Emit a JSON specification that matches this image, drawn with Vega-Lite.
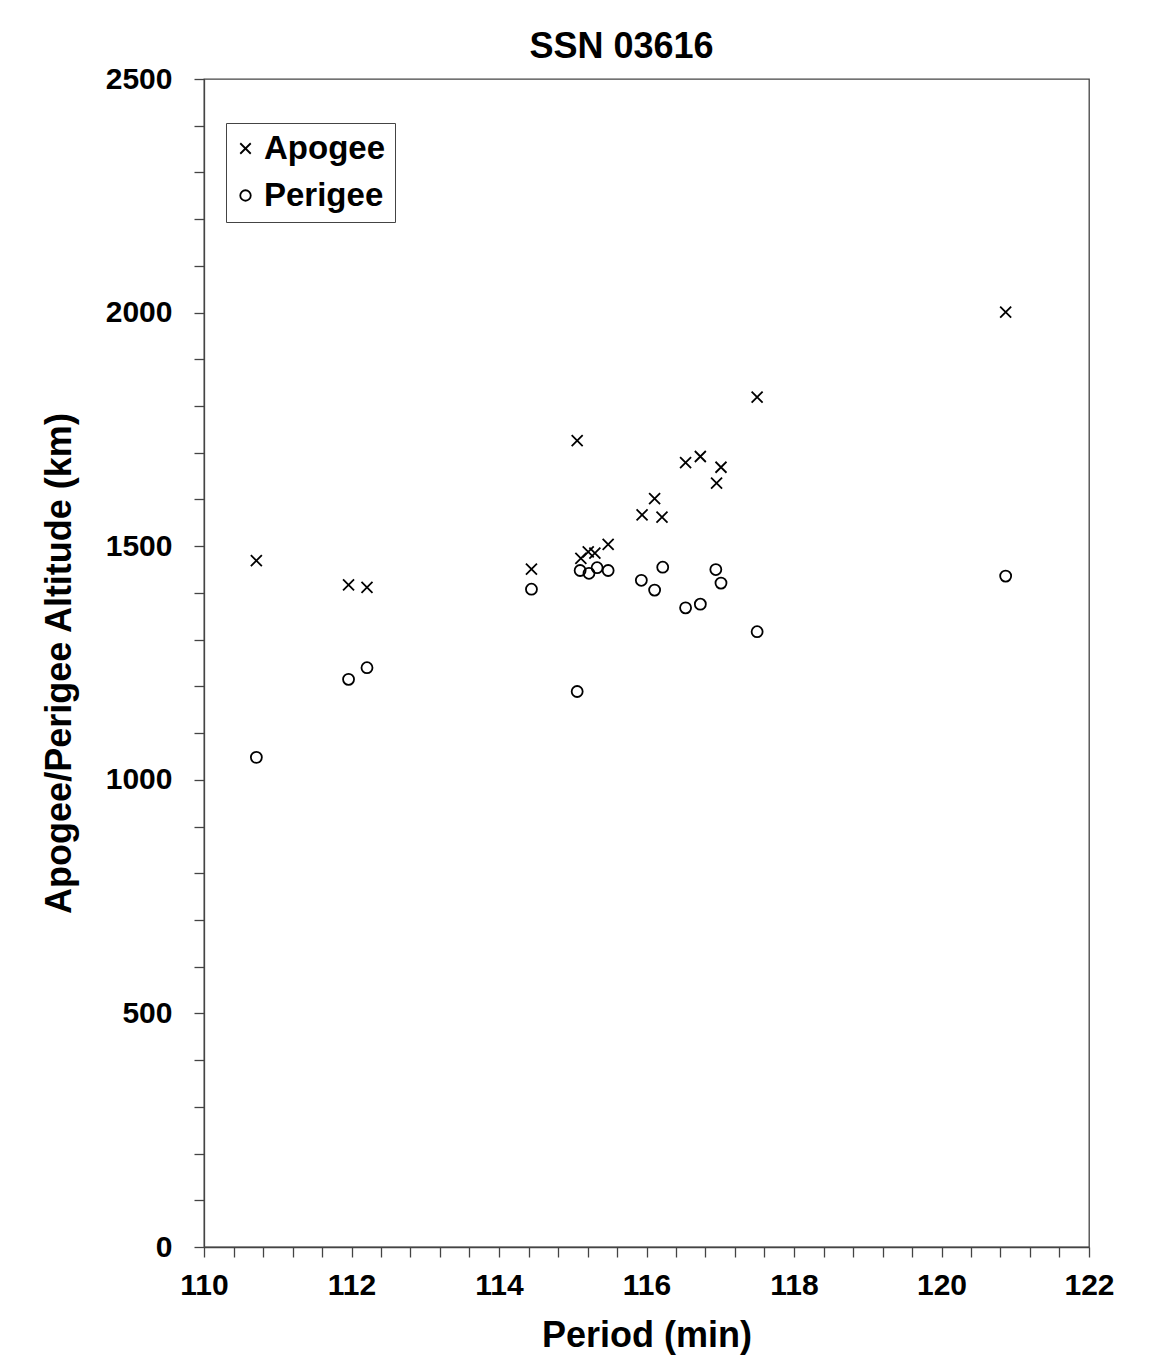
{
  "$schema": "https://vega.github.io/schema/vega-lite/v6.json",
  "width": 885,
  "height": 1168,
  "autosize": {"type": "none"},
  "padding": {"left": 204, "top": 79, "right": 67, "bottom": 125},
  "background": "white",
  "config": {
    "font": "Liberation Sans",
    "view": {"stroke": "#444", "strokeWidth": 1.3}
  },
  "title": {
    "text": "SSN 03616",
    "fontSize": 36,
    "fontWeight": "bold",
    "font": "Liberation Sans",
    "color": "black",
    "anchor": "middle",
    "frame": "group",
    "dx": -25,
    "baseline": "alphabetic",
    "offset": -30
  },
  "data": {
    "values": [
      {"period": 110.71, "altitude": 1469, "type": "Apogee"},
      {"period": 111.96, "altitude": 1417, "type": "Apogee"},
      {"period": 112.21, "altitude": 1412, "type": "Apogee"},
      {"period": 114.44, "altitude": 1451, "type": "Apogee"},
      {"period": 115.06, "altitude": 1726, "type": "Apogee"},
      {"period": 115.11, "altitude": 1474, "type": "Apogee"},
      {"period": 115.21, "altitude": 1488, "type": "Apogee"},
      {"period": 115.30, "altitude": 1485, "type": "Apogee"},
      {"period": 115.48, "altitude": 1504, "type": "Apogee"},
      {"period": 115.94, "altitude": 1567, "type": "Apogee"},
      {"period": 116.11, "altitude": 1602, "type": "Apogee"},
      {"period": 116.21, "altitude": 1562, "type": "Apogee"},
      {"period": 116.53, "altitude": 1679, "type": "Apogee"},
      {"period": 116.73, "altitude": 1692, "type": "Apogee"},
      {"period": 116.95, "altitude": 1635, "type": "Apogee"},
      {"period": 117.01, "altitude": 1669, "type": "Apogee"},
      {"period": 117.50, "altitude": 1819, "type": "Apogee"},
      {"period": 120.87, "altitude": 2001, "type": "Apogee"},
      {"period": 110.71, "altitude": 1048, "type": "Perigee"},
      {"period": 111.96, "altitude": 1215, "type": "Perigee"},
      {"period": 112.21, "altitude": 1240, "type": "Perigee"},
      {"period": 114.44, "altitude": 1408, "type": "Perigee"},
      {"period": 115.06, "altitude": 1189, "type": "Perigee"},
      {"period": 115.10, "altitude": 1448, "type": "Perigee"},
      {"period": 115.22, "altitude": 1442, "type": "Perigee"},
      {"period": 115.33, "altitude": 1454, "type": "Perigee"},
      {"period": 115.48, "altitude": 1448, "type": "Perigee"},
      {"period": 115.93, "altitude": 1427, "type": "Perigee"},
      {"period": 116.11, "altitude": 1406, "type": "Perigee"},
      {"period": 116.22, "altitude": 1455, "type": "Perigee"},
      {"period": 116.53, "altitude": 1368, "type": "Perigee"},
      {"period": 116.73, "altitude": 1376, "type": "Perigee"},
      {"period": 116.94, "altitude": 1450, "type": "Perigee"},
      {"period": 117.01, "altitude": 1421, "type": "Perigee"},
      {"period": 117.50, "altitude": 1317, "type": "Perigee"},
      {"period": 120.87, "altitude": 1436, "type": "Perigee"}
    ]
  },
  "mark": {"type": "point", "filled": false, "stroke": "black", "strokeWidth": 1.8, "size": 121, "opacity": 1},
  "encoding": {
    "x": {
      "field": "period",
      "type": "quantitative",
      "scale": {"domain": [110, 122], "nice": false, "zero": false},
      "axis": {
        "title": "Period (min)",
        "titleFontSize": 36,
        "titleFontWeight": "bold",
        "titleColor": "black",
        "titlePadding": 18,
        "values": [110, 110.4, 110.8, 111.2, 111.6, 112, 112.4, 112.8, 113.2, 113.6, 114, 114.4, 114.8, 115.2, 115.6, 116, 116.4, 116.8, 117.2, 117.6, 118, 118.4, 118.8, 119.2, 119.6, 120, 120.4, 120.8, 121.2, 121.6, 122],
        "labelExpr": "datum.value % 2 === 0 ? format(datum.value, 'd') : ''",
        "labelFontSize": 30,
        "labelFontWeight": "bold",
        "labelColor": "black",
        "labelPadding": 13,
        "labelOverlap": false,
        "labelFlush": false,
        "tickSize": 10,
        "tickColor": "#444",
        "tickWidth": 1.3,
        "domainColor": "#444",
        "domainWidth": 1.3,
        "grid": false,
        "encode": {
          "ticks": {
            "y": {"condition": {"test": "datum.value % 2 === 0", "value": -9}, "value": 0},
            "y2": {"condition": {"test": "datum.value % 2 === 0", "value": 10}, "value": 6}
          }
        }
      }
    },
    "y": {
      "field": "altitude",
      "type": "quantitative",
      "scale": {"domain": [0, 2500], "nice": false},
      "axis": {
        "title": "Apogee/Perigee Altitude (km)",
        "titleFontSize": 36,
        "titleFontWeight": "bold",
        "titleColor": "black",
        "titlePadding": 27,
        "values": [0, 100, 200, 300, 400, 500, 600, 700, 800, 900, 1000, 1100, 1200, 1300, 1400, 1500, 1600, 1700, 1800, 1900, 2000, 2100, 2200, 2300, 2400, 2500],
        "labelExpr": "datum.value % 500 === 0 ? format(datum.value, 'd') : ''",
        "labelFontSize": 30,
        "labelFontWeight": "bold",
        "labelColor": "black",
        "labelPadding": 22,
        "labelOverlap": false,
        "labelFlush": false,
        "tickSize": 10,
        "tickColor": "#444",
        "tickWidth": 1.3,
        "domainColor": "#444",
        "domainWidth": 1.3,
        "grid": false,
        "encode": {
          "ticks": {
            "x": {"condition": {"test": "datum.value % 500 === 0", "value": 9}, "value": 0},
            "x2": {"condition": {"test": "datum.value % 500 === 0", "value": -10}, "value": -6}
          }
        }
      }
    },
    "shape": {
      "field": "type",
      "type": "nominal",
      "scale": {"domain": ["Apogee", "Perigee"], "range": ["M-1,-1L1,1M-1,1L1,-1", "circle"]},
      "legend": {
        "title": null,
        "orient": "none",
        "legendX": 22,
        "legendY": 44,
        "labelFontSize": 33,
        "labelFontWeight": "bold",
        "labelColor": "black",
        "labelOffset": 2,
        "symbolSize": 110,
        "symbolStrokeWidth": 1.8,
        "symbolStrokeColor": "black",
        "symbolOffset": -6,
        "rowPadding": 13,
        "padding": 9,
        "strokeColor": "#444",
        "fillColor": "white"
      }
    }
  }
}
